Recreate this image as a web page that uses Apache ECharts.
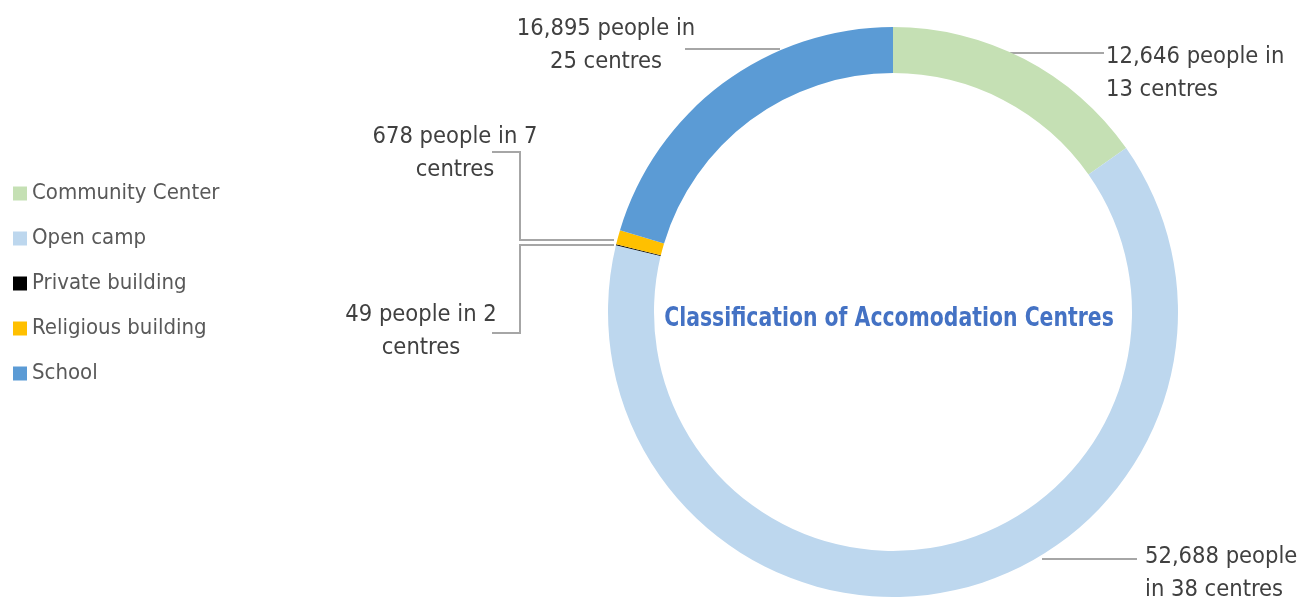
<!DOCTYPE html>
<html>
<head>
<meta charset="utf-8">
<script src="https://cdn.jsdelivr.net/npm/echarts@6/dist/echarts.min.js"></script>
<style>
  html, body { margin: 0; padding: 0; background: #fff; }
  #doom { width: 1308px; height: 598px; }
</style>
</head>
<body>
<div id="doom"></div>
<script>
var categories = ['Community Center', 'Open camp', 'Private building', 'Religious building', 'School'];
var people = [12646, 52688, 49, 678, 16895];
var centres = [13, 38, 2, 7, 25];
var colours = ['#C5E0B4', '#BDD7EE', '#000000', '#FFC000', '#5B9BD5'];

// how many words of each label go on its first line
var firstLineWords = [3, 2, 4, 4, 3];

// where each label sits and how its leader line runs
var labelSpots = [
    { x: 1106, y: 73, align: 'left', line: [[1010, 53], [1104, 53]] },
    { x: 1145, y: 573, align: 'left', line: [[1042, 559], [1137, 559]] },
    { x: 421, y: 331, align: 'center', line: [[614, 245], [520, 245], [520, 333], [492, 333]] },
    { x: 455, y: 153, align: 'center', line: [[614, 240], [520, 240], [520, 152], [492, 152]] },
    { x: 606, y: 45, align: 'center', line: [[780, 49], [685, 49]] }
];

var fontFam = '"Liberation Sans Narrow", "DejaVu Sans Condensed", "Arial Narrow", sans-serif';

(function () {
    var chart = echarts.init(document.getElementById('doom'));

    var data = categories.map(function (name, i) {
        return { name: name, value: people[i], itemStyle: { color: colours[i] } };
    });

    var option = {
        animation: false,
        legend: {
            orient: 'vertical',
            left: 13,
            top: 181,
            padding: 0,
            icon: 'rect',
            itemWidth: 14,
            itemHeight: 14,
            itemGap: 20,
            itemTextGap: 8,
            textStyle: { fontFamily: fontFam, fontSize: 22, color: '#595959', lineHeight: 25 },
            data: categories
        },
        graphic: [{
            type: 'text',
            x: 889,
            y: 319,
            z: 100,
            scaleX: 0.84,
            style: {
                text: 'Classification of Accomodation Centres',
                fontFamily: fontFam,
                fontSize: 27,
                fontWeight: 'bold',
                fill: '#4472C4',
                textAlign: 'center',
                textVerticalAlign: 'middle'
            }
        }],
        series: [{
            type: 'pie',
            center: [893, 312],
            radius: [239, 285],
            startAngle: 90,
            clockwise: true,
            avoidLabelOverlap: false,
            data: data,
            label: {
                show: true,
                fontFamily: fontFam,
                fontSize: 23.5,
                lineHeight: 33,
                color: '#404040',
                formatter: function (p) {
                    var i = p.dataIndex;
                    var words = (people[i].toLocaleString('en-US') + ' people in ' + centres[i] + ' centres').split(' ');
                    var n = firstLineWords[i];
                    return words.slice(0, n).join(' ') + '\n' + words.slice(n).join(' ');
                }
            },
            labelLine: {
                show: true,
                lineStyle: { color: '#A6A6A6', width: 2 }
            },
            labelLayout: function (params) {
                var s = labelSpots[params.dataIndex];
                return {
                    x: s.x,
                    y: s.y,
                    align: s.align,
                    verticalAlign: 'middle',
                    labelLinePoints: s.line
                };
            },
            emphasis: { disabled: true }
        }]
    };
    chart.setOption(option);
})();
</script>
</body>
</html>
